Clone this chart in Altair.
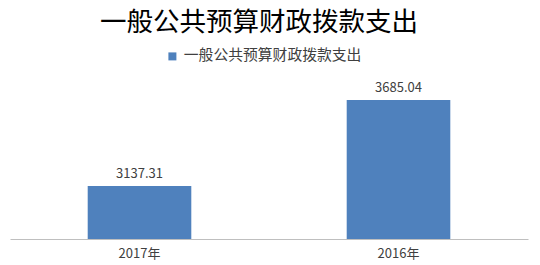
import altair as alt
import pandas as pd

# Spending values, in order of display
years = ["2017年", "2016年"]
amounts = [3137.31, 3685.04]
series_name = "一般公共预算财政拨款支出"

# value axis range (hidden axis)
axis_min = 2800
axis_max = 3800

df = pd.DataFrame({"year": years, "amount": amounts, "series": [series_name] * len(years)})

FONT = "Noto Sans CJK SC"
BAR_COLOR = "#4f81bd"

x = alt.X(
    "year:N",
    sort=years,
    title=None,
    scale=alt.Scale(paddingInner=0.6, paddingOuter=0.3),
    axis=alt.Axis(
        labelAngle=0,
        labelFont=FONT,
        labelFontSize=13,
        labelColor="#404040",
        labelPadding=8,
        ticks=False,
        domainColor="#bfbfbf",
        domainWidth=1,
        grid=False,
    ),
)
y = alt.Y(
    "amount:Q",
    scale=alt.Scale(domain=[axis_min, axis_max], zero=False, nice=False),
    axis=None,
)

bars = alt.Chart(df).mark_bar(color=BAR_COLOR).encode(
    x=x,
    y=y,
    y2=alt.datum(axis_min),
    color=alt.Color(
        "series:N",
        scale=alt.Scale(range=[BAR_COLOR]),
        legend=alt.Legend(
            title=None,
            orient="none",
            legendX=155,
            legendY=-33,
            symbolType="square",
            symbolSize=64,
            symbolStrokeWidth=0,
            labelFont=FONT,
            labelFontSize=14.8,
            labelColor="#404040",
            labelOffset=4,
            labelLimit=400,
        ),
    ),
)

labels = alt.Chart(df).mark_text(
    font=FONT, fontSize=13, color="#404040", baseline="alphabetic", dy=-8
).encode(
    x=alt.X("year:N", sort=years),
    y=alt.Y("amount:Q"),
    text=alt.Text("amount:Q", format=".2f"),
)

chart = (
    alt.layer(bars, labels)
    .properties(
        width=518,
        height=157,
        padding={"left": 10, "top": 82, "right": 12, "bottom": 26},
        autosize=alt.AutoSizeParams(type="none"),
        title=alt.TitleParams(
            series_name,
            font=FONT,
            fontSize=26.5,
            fontWeight="normal",
            color="#000000",
            anchor="middle",
            dx=-10,
            offset=13,
        ),
    )
    .configure(background="white")
    .configure_view(strokeWidth=0, stroke="transparent")
)

chart.save("out.html", embed_options={"renderer": "svg", "actions": False})
